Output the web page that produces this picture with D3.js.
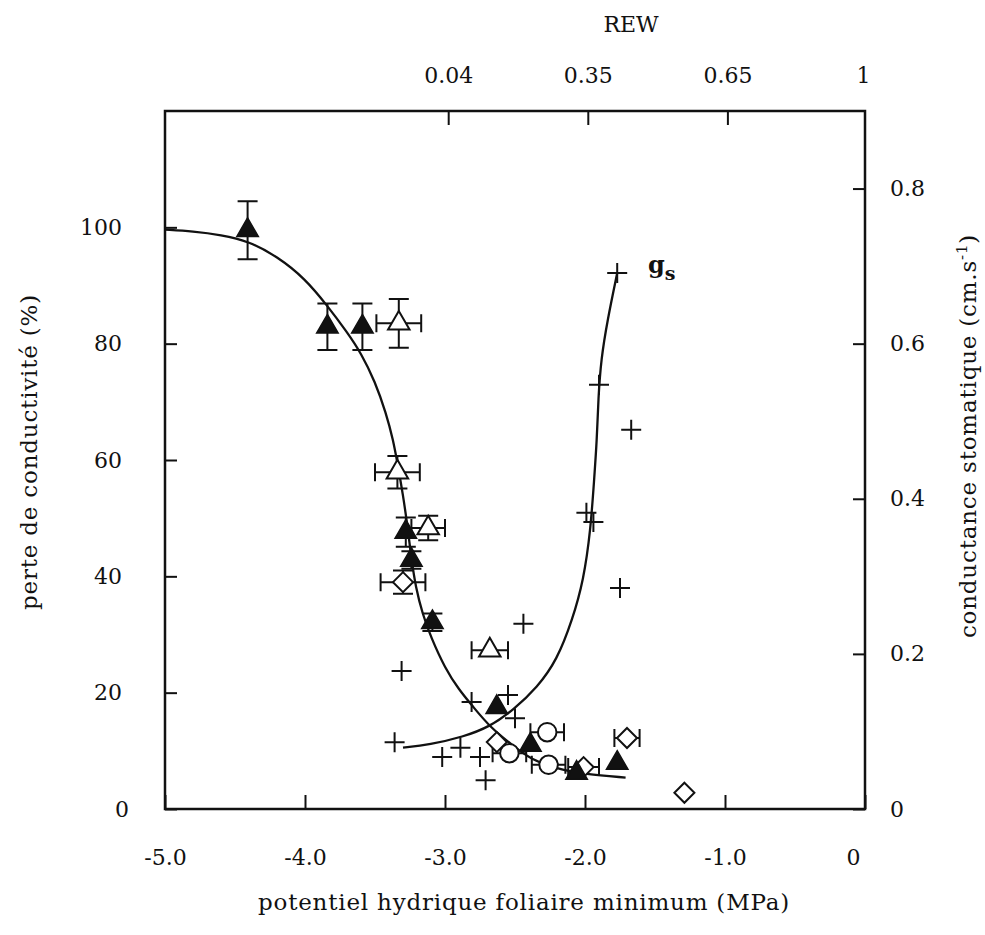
<!DOCTYPE html>
<html><head><meta charset="utf-8">
<script src="https://cdn.jsdelivr.net/npm/d3@7"></script>
<style>
body{margin:0;background:#fff}
svg text{font-family:"DejaVu Serif",serif;fill:#111}
</style>
</head><body>
<svg id="c" width="985" height="935"></svg>
<script>
// ---------- data ----------
const xTicks = [-5, -4, -3, -2, -1, 0];
const xTickLabels = ["-5.0", "-4.0", "-3.0", "-2.0", "-1.0", "0"];
const yLeftTicks = [0, 20, 40, 60, 80, 100];
const yRightTicks = [0, 0.2, 0.4, 0.6, 0.8];
const rewTicks = [-3, -2, -1, 0];
const rewLabels = ["0.04", "0.35", "0.65", "1"];

// filled triangles: [psi, PLC, errPLC]
const plcFilled = [
  [-4.41, 99.5, 5], [-3.84, 82.9, 4], [-3.59, 82.9, 4], [-3.28, 47.6, 2.5],
  [-3.24, 42.8, 1.5], [-3.09, 32.1, 1.5], [-2.63, 17.5, 0], [-2.39, 11.0, 0],
  [-2.06, 6.2, 0], [-1.77, 7.9, 0]
];
// open triangles: [psi, PLC, errPsi, errPLC]
const plcOpenTri = [
  [-3.33, 83.5, 0.16, 4.2], [-3.34, 57.9, 0.16, 2.8], [-3.12, 48.3, 0.12, 2.1], [-2.68, 27.3, 0.13, 0]
];
// open diamonds: [psi, PLC, errPsi, errPLC]
const plcDiamond = [
  [-3.30, 39.0, 0.16, 2.0], [-2.63, 11.5, 0, 0], [-2.01, 7.2, 0.11, 0], [-1.70, 12.2, 0.09, 0], [-1.29, 2.8, 0, 0]
];
// open circles: [psi, PLC, errPsi]
const plcCircle = [
  [-2.27, 13.2, 0.12], [-2.54, 9.6, 0.12], [-2.26, 7.6, 0.12]
];
// stomatal conductance (+): [psi, gs]
const gsPoints = [
  [-1.77, 0.691], [-1.90, 0.547], [-1.67, 0.489], [-1.99, 0.382], [-1.94, 0.370],
  [-1.75, 0.285], [-2.44, 0.239], [-3.31, 0.178], [-2.81, 0.138], [-2.55, 0.147],
  [-2.50, 0.117], [-3.36, 0.086], [-3.02, 0.067], [-2.89, 0.079], [-2.75, 0.067], [-2.71, 0.037]
];
// fitted curves
const plcCurve = [
  [-5.0, 99.6], [-4.8, 99.3], [-4.6, 98.7], [-4.4, 97.6], [-4.2, 95.0], [-4.0, 91.2],
  [-3.84, 86.5], [-3.7, 82.0], [-3.6, 78.4], [-3.5, 73.5], [-3.42, 68.0], [-3.37, 63.4],
  [-3.34, 59.5], [-3.30, 54.0], [-3.27, 49.0], [-3.24, 43.0], [-3.21, 38.2], [-3.16, 33.5],
  [-3.10, 29.5], [-3.0, 24.2], [-2.9, 20.5], [-2.8, 17.6], [-2.68, 14.1], [-2.5, 10.6],
  [-2.39, 8.6], [-2.2, 6.9], [-2.0, 6.0], [-1.71, 5.4]
];
const gsCurve = [
  [-3.30, 0.079], [-3.11, 0.083], [-2.87, 0.093], [-2.68, 0.106], [-2.51, 0.128],
  [-2.34, 0.157], [-2.20, 0.192], [-2.09, 0.244], [-2.01, 0.295], [-1.96, 0.360],
  [-1.935, 0.424], [-1.915, 0.476], [-1.905, 0.530], [-1.885, 0.580], [-1.84, 0.630], [-1.77, 0.691]
];

// ---------- layout ----------
const L = 165, R = 865, T = 111, B = 809;
const svg = d3.select("#c");
const x = d3.scaleLinear().domain([-5, 0]).range([L, R]);
const xTop = d3.scaleLinear().domain([-5, 0]).range([L + 4, R + 2]);
const yL = d3.scaleLinear().domain([0, 120]).range([B, T]);
const yR = d3.scaleLinear().domain([0, 0.9]).range([B, T]);
const FS = 22;

function styleAxis(g) {
  g.select(".domain").remove();
  g.selectAll(".tick line").attr("stroke", "#111").attr("stroke-width", 2);
  g.selectAll(".tick text").attr("font-size", FS).attr("font-family", "DejaVu Serif").attr("fill", "#111");
}

// bottom axis
svg.append("g").attr("transform", `translate(0,${B})`)
  .call(d3.axisBottom(x).tickValues(xTicks).tickFormat((d, i) => xTickLabels[i])
    .tickSizeInner(-14).tickSizeOuter(0).tickPadding(40))
  .call(styleAxis)
  .call(g => g.selectAll(".tick text").filter(d => d === 0).attr("dx", -12));

// top axis (REW)
svg.append("g").attr("transform", `translate(0,${T})`)
  .call(d3.axisTop(xTop).tickValues(rewTicks).tickFormat((d, i) => rewLabels[i])
    .tickSizeInner(-14).tickSizeOuter(0).tickPadding(28))
  .call(styleAxis)
  .call(g => g.selectAll(".tick line").filter(d => d === 0).remove())
  .call(g => g.selectAll(".tick text").filter(d => d === 0).attr("dx", -4));

// left axis
svg.append("g").attr("transform", `translate(${L},0)`)
  .call(d3.axisLeft(yL).tickValues(yLeftTicks).tickFormat(d3.format("d"))
    .tickSizeInner(-12).tickSizeOuter(0).tickPadding(43))
  .call(styleAxis)
  .call(g => g.selectAll(".tick text").filter(d => d === 0).attr("dx", 7));

// right axis
svg.append("g").attr("transform", `translate(${R},0)`)
  .call(d3.axisRight(yR).tickValues(yRightTicks).tickFormat(d => d === 0 ? "0" : d3.format(".1f")(d))
    .tickSizeInner(-12).tickSizeOuter(0).tickPadding(25))
  .call(styleAxis);

// frame
svg.append("rect").attr("x", L).attr("y", T).attr("width", R - L).attr("height", B - T)
  .attr("fill", "none").attr("stroke", "#111").attr("stroke-width", 2.5);

// titles
const TS = 23, LS = "0.8px";
svg.append("text").attr("x", 631).attr("y", 32).attr("text-anchor", "middle").attr("font-size", FS).text("REW");
svg.append("text").attr("x", 524).attr("y", 910).attr("text-anchor", "middle").attr("font-size", TS)
  .attr("letter-spacing", LS).text("potentiel hydrique foliaire minimum (MPa)");
svg.append("text").attr("transform", "translate(37,452) rotate(-90)").attr("text-anchor", "middle")
  .attr("font-size", TS).attr("letter-spacing", LS).text("perte de conductivité (%)");
const rt = svg.append("text").attr("transform", "translate(976,436) rotate(-90)").attr("text-anchor", "middle")
  .attr("font-size", TS).attr("letter-spacing", LS);
rt.append("tspan").text("conductance stomatique (cm.s");
rt.append("tspan").attr("dy", -9).attr("font-size", 15).text("-1");
rt.append("tspan").attr("dy", 9).text(")");

// curves
const line = d3.line().x(d => x(d[0])).curve(d3.curveBasis);
svg.append("path").datum(plcCurve).attr("d", line.y(d => yL(d[1]))).attr("fill", "none")
  .attr("stroke", "#111").attr("stroke-width", 2.3);
svg.append("path").datum(gsCurve).attr("d", line.y(d => yR(d[1]))).attr("fill", "none")
  .attr("stroke", "#111").attr("stroke-width", 2.3);

// gs label
const gl = svg.append("text").attr("x", 648).attr("y", 273).attr("font-size", 24).attr("font-weight", "bold");
gl.append("tspan").text("g");
gl.append("tspan").attr("dy", 7).attr("font-size", 19).text("s");

// error bars
const eb = svg.append("g").attr("stroke", "#111").attr("stroke-width", 2).attr("fill", "none");
function vErr(px, py, e) {
  if (!e) return;
  const y1 = yL(py + e), y2 = yL(py - e), cx = x(px);
  eb.append("path").attr("d", `M${cx},${y1}V${y2}M${cx - 10},${y1}H${cx + 10}M${cx - 10},${y2}H${cx + 10}`);
}
function hErr(px, py, e) {
  if (!e) return;
  const x1 = x(px - e), x2 = x(px + e), cy = yL(py);
  eb.append("path").attr("d", `M${x1},${cy}H${x2}M${x1},${cy - 9}V${cy + 9}M${x2},${cy - 9}V${cy + 9}`);
}
plcFilled.forEach(d => vErr(d[0], d[1], d[2]));
plcOpenTri.forEach(d => { vErr(d[0], d[1], d[3]); hErr(d[0], d[1], d[2]); });
plcDiamond.forEach(d => { vErr(d[0], d[1], d[3]); hErr(d[0], d[1], d[2]); });
plcCircle.forEach(d => hErr(d[0], d[1], d[2]));

// markers
const tri = d3.symbol(d3.symbolTriangle, 200)();
const dia = "M0,-10L10,0L0,10L-10,0Z";
const circ = d3.symbol(d3.symbolCircle, 270)();
const plus = "M-10,0H10M0,-10V10";

svg.append("g").selectAll("path").data(gsPoints).join("path")
  .attr("d", plus).attr("transform", d => `translate(${x(d[0])},${yR(d[1])})`)
  .attr("stroke", "#111").attr("stroke-width", 2).attr("fill", "none");
svg.append("g").selectAll("path").data(plcCircle).join("path")
  .attr("d", circ).attr("transform", d => `translate(${x(d[0])},${yL(d[1])})`)
  .attr("stroke", "#111").attr("stroke-width", 2).attr("fill", "#fff");
svg.append("g").selectAll("path").data(plcDiamond).join("path")
  .attr("d", dia).attr("transform", d => `translate(${x(d[0])},${yL(d[1])})`)
  .attr("stroke", "#111").attr("stroke-width", 2).attr("fill", "#fff");
svg.append("g").selectAll("path").data(plcOpenTri).join("path")
  .attr("d", tri).attr("transform", d => `translate(${x(d[0])},${yL(d[1])})`)
  .attr("stroke", "#111").attr("stroke-width", 2).attr("fill", "#fff");
svg.append("g").selectAll("path").data(plcFilled).join("path")
  .attr("d", tri).attr("transform", d => `translate(${x(d[0])},${yL(d[1])})`)
  .attr("stroke", "#111").attr("stroke-width", 1.5).attr("fill", "#111");
</script>
</body></html>
